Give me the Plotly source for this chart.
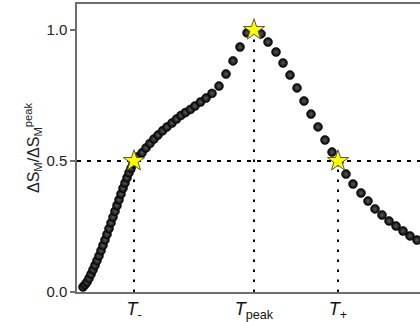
import plotly.graph_objects as go

# Normalised entropy change vs temperature (arbitrary temperature units)
temperature = [
    6, 8, 10, 12, 14, 16, 18, 20, 22, 24, 26, 28, 30, 32, 34, 36, 38, 40, 42, 44,
    46, 48, 50, 52, 54, 56, 57,
    60, 65, 69, 73, 77, 81, 85.5, 90, 95, 99.5, 104, 108.5, 113.5, 118, 123.5,
    129, 135, 142, 149, 156, 163, 170, 177, 184, 191, 199, 206, 213, 220, 227,
    234, 241, 248, 255, 262, 269, 276, 284, 291, 298, 305, 312, 319, 326, 333,
    340, 347,
]
ds_ratio = [
    0.019, 0.028, 0.038, 0.052, 0.068, 0.085, 0.102, 0.120, 0.138, 0.158,
    0.178, 0.199, 0.220, 0.242, 0.264, 0.286, 0.308, 0.330, 0.352, 0.374,
    0.396, 0.416, 0.436, 0.455, 0.472, 0.490, 0.500,
    0.515, 0.531, 0.550, 0.567, 0.584, 0.599, 0.615, 0.630, 0.645, 0.660,
    0.674, 0.685, 0.697, 0.710, 0.725, 0.740, 0.758, 0.786, 0.832, 0.882,
    0.935, 0.989, 1.000, 0.985, 0.954, 0.916, 0.874, 0.828, 0.779, 0.729,
    0.679, 0.630, 0.580, 0.534, 0.497, 0.450, 0.412, 0.378, 0.347, 0.317,
    0.294, 0.271, 0.252, 0.233, 0.214, 0.198, 0.183,
]

# Characteristic temperatures and their normalised values
key_temps = [57, 177, 261]
key_values = [0.5, 1.0, 0.5]
key_labels = ["<i>T</i><sub>-</sub>", "<i>T</i><sub>peak</sub>", "<i>T</i><sub>+</sub>"]

half_level = 0.5
x_max = 343
y_ticks = [0.0, 0.5, 1.0]

font_family = "Liberation Sans, Arial, sans-serif"
axis_color = "#6e6e6e"

fig = go.Figure()

# Dotted guide: half-maximum level
fig.add_trace(go.Scatter(
    x=[0, x_max], y=[half_level, half_level], mode="lines",
    line=dict(color="black", width=2, dash="4px,6px"),
    hoverinfo="skip", showlegend=False,
))

# Dotted guides: drop lines from the characteristic points
for t, v in zip(key_temps, key_values):
    fig.add_trace(go.Scatter(
        x=[t, t], y=[0, v], mode="lines",
        line=dict(color="black", width=2, dash="2.5px,7.5px"),
        hoverinfo="skip", showlegend=False,
    ))

# Measured curve drawn as shaded spheres
fig.add_trace(go.Scatter(
    x=temperature, y=ds_ratio, mode="markers",
    marker=dict(
        size=9, color="#000000",
        gradient=dict(type="radial", color="#5c5c5c"),
        line=dict(width=0.5, color="#000000"),
    ),
    cliponaxis=False, showlegend=False,
))

# Characteristic points
fig.add_trace(go.Scatter(
    x=key_temps, y=key_values, mode="markers",
    marker=dict(symbol="star", size=16, color="#ffff00",
                line=dict(color="#5a5a3a", width=1)),
    cliponaxis=False, showlegend=False,
))

fig.update_layout(
    width=420, height=322,
    margin=dict(l=77, r=0, t=4, b=30),
    paper_bgcolor="white", plot_bgcolor="white",
    font=dict(family=font_family, color="#222222"),
    xaxis=dict(
        range=[0, x_max], showgrid=False, zeroline=False,
        showline=True, linecolor=axis_color, linewidth=1.5, mirror=True,
        tickmode="array", tickvals=key_temps, ticktext=key_labels,
        ticks="", tickfont=dict(size=18, color="#111111"),
    ),
    yaxis=dict(
        range=[0, 1.0992], showgrid=False, zeroline=False,
        showline=True, linecolor=axis_color, linewidth=1.5,
        tickmode="array", tickvals=y_ticks, ticktext=["0.0", "0.5", "1.0"],
        ticks="outside", ticklen=5, tickwidth=1.5, tickcolor=axis_color,
        tickfont=dict(size=15, color="#222222"),
        title=dict(text="ΔS<sub>M</sub>/ΔS<sub>M</sub><sup>peak</sup>",
                   font=dict(size=16, color="#222222"), standoff=3),
    ),
)

fig.write_html("out.html")
